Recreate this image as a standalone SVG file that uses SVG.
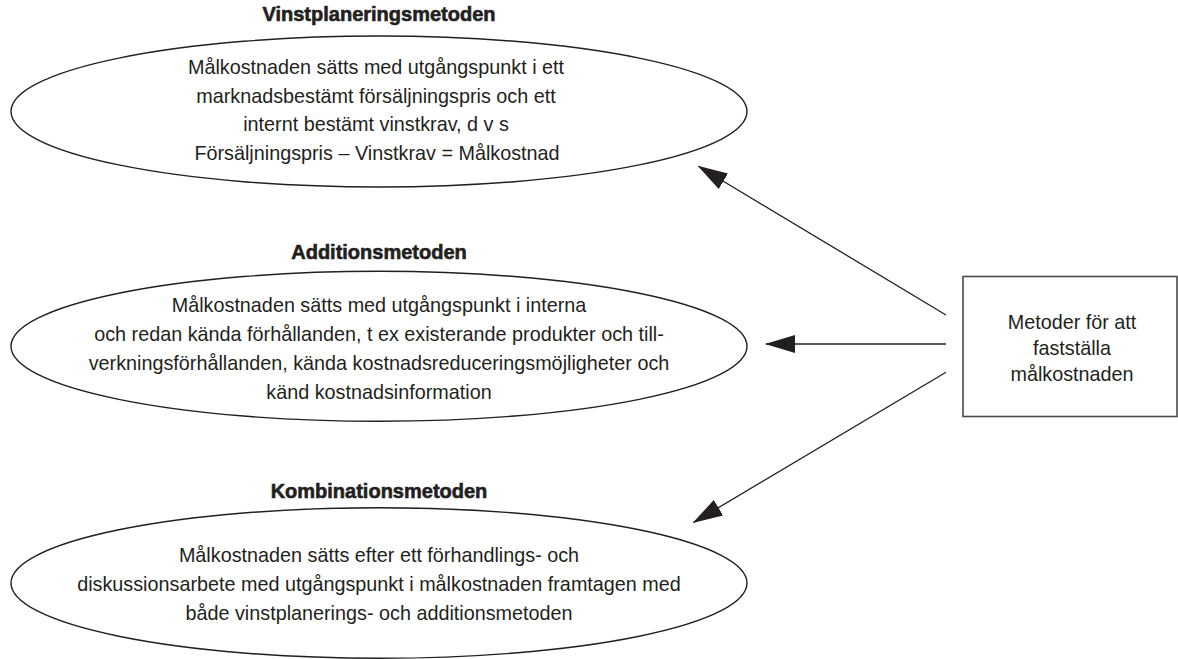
<svg xmlns="http://www.w3.org/2000/svg" width="1178" height="659" viewBox="0 0 1178 659">
<style>
.bg{fill:#fff}
.ell{fill:none;stroke:#231f20;stroke-width:1.4}
.box{fill:#fff;stroke:#4a4a4a;stroke-width:1.6}
.title{font-family:"Liberation Sans",Arial,sans-serif;font-weight:bold;font-size:20px;fill:#231f20;stroke:#231f20;stroke-width:0.6;text-anchor:middle}
.body{font-family:"Liberation Sans",Arial,sans-serif;font-size:19.8px;fill:#231f20;text-anchor:middle}
.conn{stroke:#231f20;stroke-width:1.3;fill:none}
</style>
<defs>
<marker id="ah" viewBox="0 0 30 18" refX="29" refY="9" markerWidth="30" markerHeight="18" markerUnits="userSpaceOnUse" orient="auto">
<path d="M0,0 L30,9 L0,18 z" fill="#231f20"/>
</marker>
</defs>
<rect class="bg" x="0" y="0" width="1178" height="659"/>

<g id="vinstplanering">
<text class="title" x="379" y="21">Vinstplaneringsmetoden</text>
<ellipse class="ell" cx="379" cy="111.5" rx="368" ry="75.5"/>
<text class="body" x="376" y="74">Målkostnaden sätts med utgångspunkt i ett</text>
<text class="body" x="376" y="102.5">marknadsbestämt försäljningspris och ett</text>
<text class="body" x="376" y="131">internt bestämt vinstkrav, d v s</text>
<text class="body" x="377" y="159.5">Försäljningspris – Vinstkrav = Målkostnad</text>
</g>

<g id="addition">
<text class="title" x="379" y="259">Additionsmetoden</text>
<ellipse class="ell" cx="379" cy="346.3" rx="368" ry="75"/>
<text class="body" x="379" y="312">Målkostnaden sätts med utgångspunkt i interna</text>
<text class="body" x="379" y="341">och redan kända förhållanden, t ex existerande produkter och till-</text>
<text class="body" x="379" y="370">verkningsförhållanden, kända kostnadsreduceringsmöjligheter och</text>
<text class="body" x="379" y="399">känd kostnadsinformation</text>
</g>

<g id="kombination">
<text class="title" x="379" y="497.5">Kombinationsmetoden</text>
<ellipse class="ell" cx="379" cy="583" rx="368" ry="75.3"/>
<text class="body" x="379" y="562">Målkostnaden sätts efter ett förhandlings- och</text>
<text class="body" x="379" y="591">diskussionsarbete med utgångspunkt i målkostnaden framtagen med</text>
<text class="body" x="379" y="620">både vinstplanerings- och additionsmetoden</text>
</g>

<g id="metoder">
<rect class="box" x="963" y="276.5" width="214" height="140"/>
<text class="body" x="1072" y="328.5">Metoder för att</text>
<text class="body" x="1072" y="354.5">fastställa</text>
<text class="body" x="1072" y="380.5">målkostnaden</text>
</g>

<g id="connectors">
<line class="conn" x1="946" y1="315" x2="698.5" y2="166.3" marker-end="url(#ah)"/>
<line class="conn" x1="946" y1="344" x2="766" y2="344" marker-end="url(#ah)"/>
<line class="conn" x1="946" y1="372.3" x2="693.5" y2="522.5" marker-end="url(#ah)"/>
</g>
</svg>
